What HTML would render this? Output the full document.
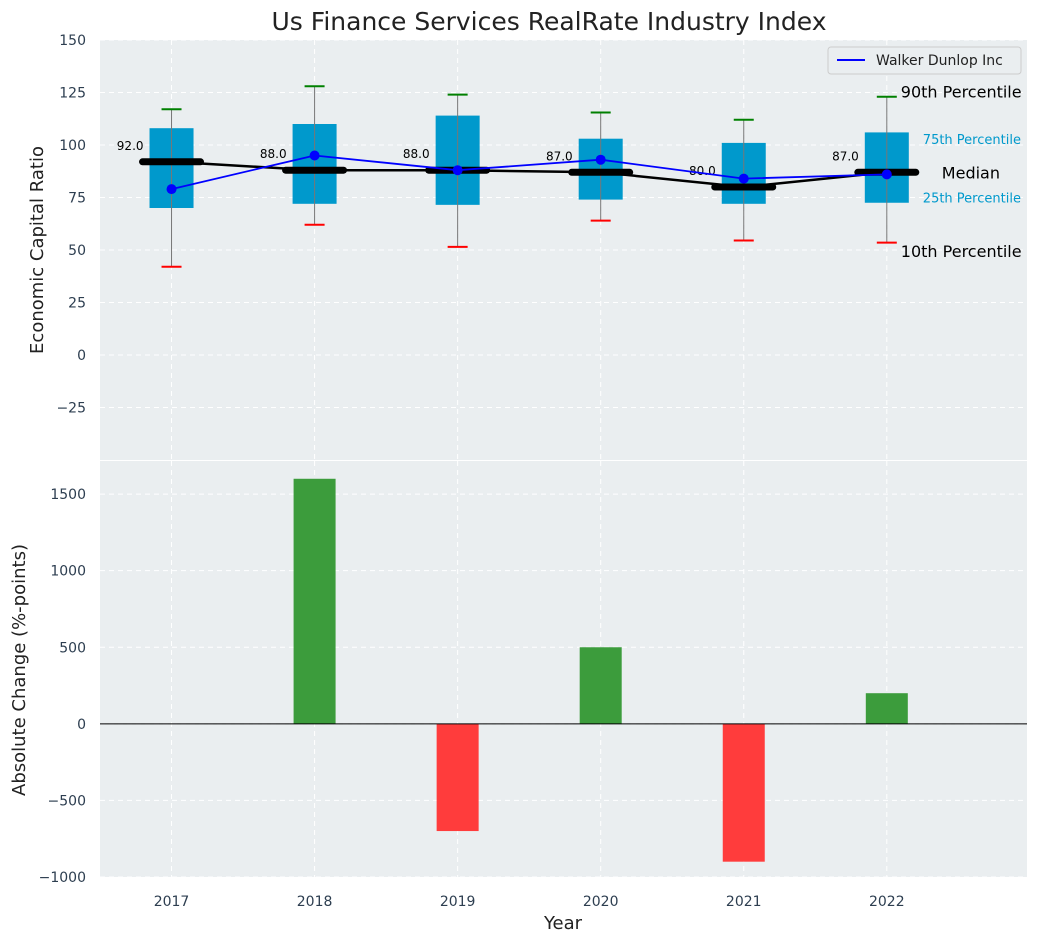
<!DOCTYPE html>
<html><head><meta charset="utf-8"><style>
body{margin:0;background:#fff;font-family:"Liberation Sans","DejaVu Sans",sans-serif}
svg text{font-family:"DejaVu Sans","Liberation Sans",sans-serif}
</style></head><body>
<svg id="c" width="1039" height="942" xmlns="http://www.w3.org/2000/svg"></svg>
<script>
const years=[2017,2018,2019,2020,2021,2022];
const p10=[42,62,51.5,64,54.5,53.5];
const p25=[70,72,71.5,74,72,72.5];
const med=[92,88,88,87,80,87];
const p75=[108,110,114,103,101,106];
const p90=[117,128,124,115.5,112,123];
const company=[79,95,88,93,84,86];
const changes=[0,1600,-700,500,-900,200];
const topTicks=[-25,0,25,50,75,100,125,150];
const botTicks=[-1000,-500,0,500,1000,1500];

const NS="http://www.w3.org/2000/svg";
const svg=document.getElementById('c');
function el(t,a,p){const e=document.createElementNS(NS,t);for(const k in a)e.setAttribute(k,a[k]);(p||svg).appendChild(e);return e;}
const L=100,R=1027;
const x=v=>L+(v-2016.5)/(2022.98-2016.5)*(R-L);
const T0=40,T1=460;const yt=v=>T1-(v+50)/200*(T1-T0);
const B0=461,B1=877;const yb=v=>B1-(v+1000)/2716*(B1-B0);

let t=el('text',{x:549,y:30,'font-size':25,'text-anchor':'middle',fill:'#222'});t.textContent='Us Finance Services RealRate Industry Index';


let g=el('g',{});
el('rect',{x:L,y:T0,width:R-L,height:T1-T0,fill:'#eaeef0'},g);
topTicks.forEach(v=>{el('line',{x1:L,x2:R,y1:yt(v),y2:yt(v),stroke:'#fff','stroke-dasharray':'5,4','stroke-width':1},g);
 const tx=el('text',{x:L-14,y:yt(v)+5,'font-size':14,'text-anchor':'end',fill:'#2d3e50'},g);tx.textContent=v<0?'\u2212'+(-v):v;
 });
years.forEach(yr=>{el('line',{x1:x(yr),x2:x(yr),y1:T0,y2:T1,stroke:'#fff','stroke-dasharray':'5,4'},g);
 el('line',{x1:x(yr),x2:x(yr),y1:B0,y2:B1,stroke:'#fff','stroke-dasharray':'5,4'});});
let yl=el('text',{transform:'translate(43,250) rotate(-90)','font-size':18,'text-anchor':'middle',fill:'#222'});yl.textContent='Economic Capital Ratio';

years.forEach((yr,i)=>{const cx=x(yr);
 const b=el('g',{});
 el('rect',{x:cx-22,y:yt(p75[i]),width:44,height:yt(p25[i])-yt(p75[i]),fill:'#0099cc'},b);
 el('line',{x1:cx,x2:cx,y1:yt(p90[i]),y2:yt(p10[i]),stroke:'#777','stroke-width':1},b);
 el('line',{x1:cx-10,x2:cx+10,y1:yt(p90[i]),y2:yt(p90[i]),stroke:'green','stroke-width':2},b);
 el('line',{x1:cx-10,x2:cx+10,y1:yt(p10[i]),y2:yt(p10[i]),stroke:'red','stroke-width':2},b);
});
el('polyline',{points:years.map((yr,i)=>x(yr)+','+yt(med[i])).join(' '),fill:'none',stroke:'#000','stroke-width':2.5});
years.forEach((yr,i)=>{const cx=x(yr);
 const m=el('line',{x1:cx-29,x2:cx+29,y1:yt(med[i]),y2:yt(med[i]),stroke:'#000','stroke-width':7,'stroke-linecap':'round'});
 
 const lt=el('text',{x:cx-28,y:yt(med[i])-12,'font-size':12,'text-anchor':'end',fill:'#000'});lt.textContent=med[i].toFixed(1);
 });
el('polyline',{points:years.map((yr,i)=>x(yr)+','+yt(company[i])).join(' '),fill:'none',stroke:'blue','stroke-width':1.8});
years.forEach((yr,i)=>{const p=el('circle',{cx:x(yr),cy:yt(company[i]),r:5,fill:'blue'});});
const ann=[['90th Percentile',p90[5]+2.5,16,'#000',0],['75th Percentile',p75[5]-2.7,13,'#0099cc',22],['Median',med[5],16,'#000',41],['25th Percentile',p25[5]+3,13,'#0099cc',22],['10th Percentile',p10[5]-4,16,'#000',0]];
ann.forEach(a=>{const e=el('text',{x:x(2022)+14+a[4],y:yt(a[1])+6,'font-size':a[2],fill:a[3]});e.textContent=a[0];});
const lg=el('g',{});
el('rect',{x:828,y:47,width:193,height:27,rx:3,fill:'#eaeef0',stroke:'#ccc'},lg);
el('line',{x1:837,x2:865,y1:60,y2:60,stroke:'blue','stroke-width':2},lg);
let lt2=el('text',{x:876,y:65,'font-size':14,fill:'#222'},lg);lt2.textContent='Walker Dunlop Inc';

const g2=el('g',{});
svg.insertBefore(g2,svg.firstChild);
el('rect',{x:L,y:B0,width:R-L,height:B1-B0,fill:'#eaeef0'},g2);
botTicks.forEach(v=>{el('line',{x1:L,x2:R,y1:yb(v),y2:yb(v),stroke:'#fff','stroke-dasharray':'5,4'},g2);
 const tx=el('text',{x:L-14,y:yb(v)+5,'font-size':14,'text-anchor':'end',fill:'#2d3e50'});tx.textContent=v<0?'\u2212'+(-v):v;
 });
years.forEach((yr,i)=>{const v=changes[i];if(!v)return;
 const r=el('rect',{x:x(yr)-21,y:Math.min(yb(v),yb(0)),width:42,height:Math.abs(yb(v)-yb(0)),fill:v>0?'#3c9c3c':'#ff3c3c'});
 });
el('line',{x1:L,x2:R,y1:yb(0),y2:yb(0),stroke:'#000','stroke-width':1});
years.forEach(yr=>{const tx=el('text',{x:x(yr),y:906,'font-size':14,'text-anchor':'middle',fill:'#2d3e50'});tx.textContent=yr;
 });
let xl=el('text',{x:563,y:929,'font-size':18,'text-anchor':'middle',fill:'#222'});xl.textContent='Year';

let yl2=el('text',{transform:'translate(25,670) rotate(-90)','font-size':18,'text-anchor':'middle',fill:'#222'});yl2.textContent='Absolute Change (%-points)';

</script>
</body></html>
